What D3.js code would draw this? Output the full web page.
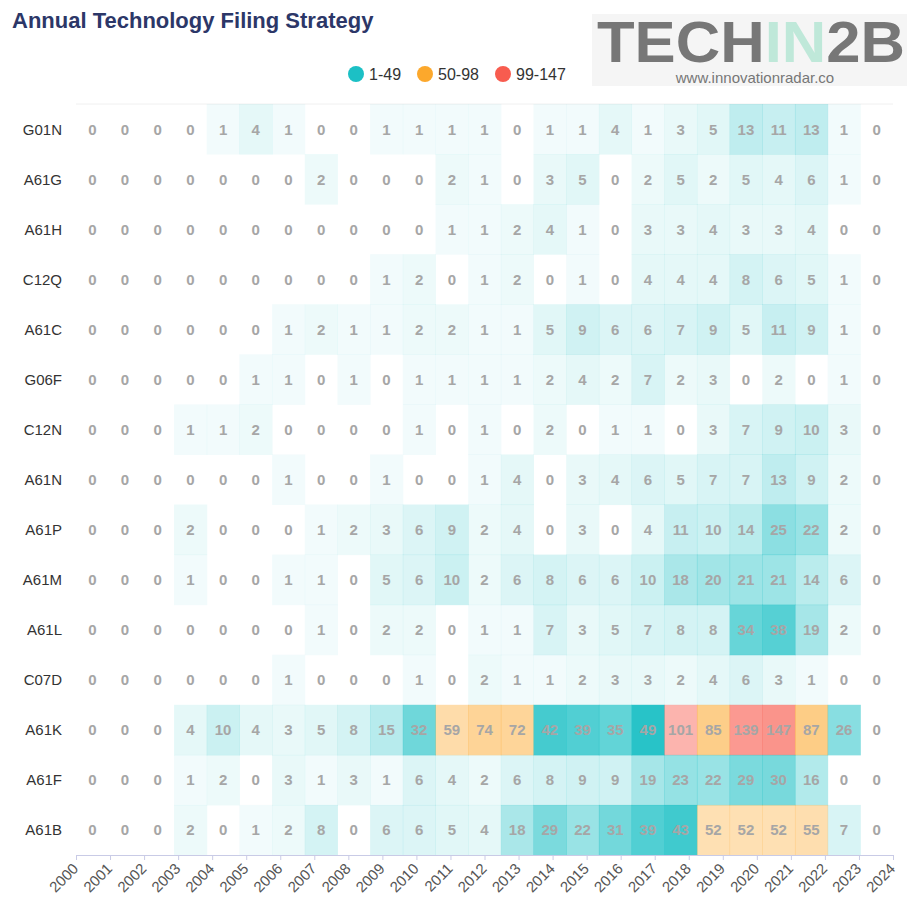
<!DOCTYPE html>
<html>
<head>
<meta charset="utf-8">
<script src="https://cdnjs.cloudflare.com/ajax/libs/d3/7.8.5/d3.min.js"></script>
<style>
  body { margin: 0; background: #fff; }
  svg { display: block; font-family: "Liberation Sans", Arial, sans-serif; }
</style>
</head>
<body>
<svg id="heat" width="907" height="900"></svg>
<script>
// years along the bottom, classes down the side
var years = ["2000","2001","2002","2003","2004","2005","2006","2007","2008","2009","2010","2011",
             "2012","2013","2014","2015","2016","2017","2018","2019","2020","2021","2022","2023","2024"];
var classes = ["G01N","A61G","A61H","C12Q","A61C","G06F","C12N","A61N","A61P","A61M","A61L","C07D","A61K","A61F","A61B"];

var G01N = [0,0,0,0,1,4,1,0,0,1,1,1,1,0,1,1,4,1,3,5,13,11,13,1,0];
var A61G = [0,0,0,0,0,0,0,2,0,0,0,2,1,0,3,5,0,2,5,2,5,4,6,1,0];
var A61H = [0,0,0,0,0,0,0,0,0,0,0,1,1,2,4,1,0,3,3,4,3,3,4,0,0];
var C12Q = [0,0,0,0,0,0,0,0,0,1,2,0,1,2,0,1,0,4,4,4,8,6,5,1,0];
var A61C = [0,0,0,0,0,0,1,2,1,1,2,2,1,1,5,9,6,6,7,9,5,11,9,1,0];
var G06F = [0,0,0,0,0,1,1,0,1,0,1,1,1,1,2,4,2,7,2,3,0,2,0,1,0];
var C12N = [0,0,0,1,1,2,0,0,0,0,1,0,1,0,2,0,1,1,0,3,7,9,10,3,0];
var A61N = [0,0,0,0,0,0,1,0,0,1,0,0,1,4,0,3,4,6,5,7,7,13,9,2,0];
var A61P = [0,0,0,2,0,0,0,1,2,3,6,9,2,4,0,3,0,4,11,10,14,25,22,2,0];
var A61M = [0,0,0,1,0,0,1,1,0,5,6,10,2,6,8,6,6,10,18,20,21,21,14,6,0];
var A61L = [0,0,0,0,0,0,0,1,0,2,2,0,1,1,7,3,5,7,8,8,34,38,19,2,0];
var C07D = [0,0,0,0,0,0,1,0,0,0,1,0,2,1,1,2,3,3,2,4,6,3,1,0,0];
var A61K = [0,0,0,4,10,4,3,5,8,15,32,59,74,72,42,39,35,49,101,85,139,147,87,26,0];
var A61F = [0,0,0,1,2,0,3,1,3,1,6,4,2,6,8,9,9,19,23,22,29,30,16,0,0];
var A61B = [0,0,0,2,0,1,2,8,0,6,6,5,4,18,29,22,31,39,43,52,52,52,55,7,0];

var pieceLabels = ["1-49", "50-98", "99-147"];
var pieceRanges = [[1,49], [50,98], [99,147]];

var rows = [G01N, A61G, A61H, C12Q, A61C, G06F, C12N, A61N, A61P, A61M, A61L, C07D, A61K, A61F, A61B];

var cells = [];
rows.forEach(function(r, i) {
  r.forEach(function(v, j) {
    cells.push({ cls: classes[i], year: years[j], value: v });
  });
});

var svg = d3.select("#heat"),
    margin = {top: 104, right: 14, bottom: 45, left: 76},
    width = +svg.attr("width"),
    height = +svg.attr("height"),
    gridRight = width - margin.right,
    gridBottom = height - margin.bottom;

var pieceColors = ["#1cc0c5", "#fca82c", "#f85c4f"];
// alpha spread inside each piece (low end, high end)
var alphaRange = [[0.06, 0.95], [0.35, 0.64], [0.45, 0.66]];

function cellColor(v) {
  for (var k = 0; k < pieceRanges.length; k++) {
    var lo = pieceRanges[k][0], hi = pieceRanges[k][1];
    if (v >= lo && v <= hi) {
      var a = d3.scaleLinear().domain([lo, hi]).range(alphaRange[k])(v);
      var c = d3.color(pieceColors[k]);
      c.opacity = a;
      return c + "";
    }
  }
  return "none";
}

var x = d3.scaleBand().domain(years).range([margin.left, gridRight]);
var y = d3.scaleBand().domain(classes).range([margin.top, gridBottom]);
// axis ticks sit on a separate point scale, same as the original
var xTick = d3.scalePoint().domain(years).range([margin.left, gridRight]);

// faint top edge
svg.append("line")
    .attr("x1", margin.left).attr("x2", gridRight)
    .attr("y1", margin.top).attr("y2", margin.top)
    .attr("stroke", "#f0f0f0");

svg.append("g").selectAll("rect")
    .data(cells)
  .enter().append("rect")
    .attr("x", function(d) { return x(d.year); })
    .attr("y", function(d) { return y(d.cls); })
    .attr("width", x.bandwidth() + 0.5)
    .attr("height", y.bandwidth() + 0.5)
    .attr("fill", function(d) { return cellColor(d.value); });

svg.append("g").selectAll("text")
    .data(cells)
  .enter().append("text")
    .attr("x", function(d) { return x(d.year) + x.bandwidth() / 2; })
    .attr("y", function(d) { return y(d.cls) + y.bandwidth() / 2; })
    .attr("text-anchor", "middle")
    .attr("dominant-baseline", "central")
    .attr("font-size", 15)
    .attr("font-weight", "bold")
    .attr("fill", "#a6a6a6")
    .text(function(d) { return d.value; });

// y labels
svg.append("g").selectAll("text")
    .data(classes)
  .enter().append("text")
    .attr("x", 62)
    .attr("y", function(d) { return y(d) + y.bandwidth() / 2; })
    .attr("text-anchor", "end")
    .attr("dominant-baseline", "central")
    .attr("font-size", 15)
    .attr("fill", "#333")
    .text(function(d) { return d; });

// x axis
var xa = svg.append("g")
    .attr("transform", "translate(0," + gridBottom + ")")
    .call(d3.axisBottom(xTick).tickSizeOuter(0).tickSize(5));
xa.select(".domain").attr("stroke", "#c9cbe6");
xa.selectAll(".tick line").attr("stroke", "#c9cbe6");
xa.selectAll(".tick text")
    .attr("font-family", "'Liberation Sans', Arial, sans-serif")
    .attr("font-size", 15)
    .attr("fill", "#555")
    .attr("text-anchor", "end")
    .attr("y", 0)
    .attr("dy", "0.35em")
    .attr("transform", "translate(-1,11) rotate(-45)");

// title
svg.append("text")
    .attr("x", 12).attr("y", 28)
    .attr("font-size", 22)
    .attr("font-weight", "bold")
    .attr("fill", "#2c3768")
    .text("Annual Technology Filing Strategy");

// legend
var lx = [356, 425, 503];
var lg = svg.append("g").selectAll("g")
    .data(pieceLabels)
  .enter().append("g")
    .attr("transform", function(d, i) { return "translate(" + lx[i] + ",74)"; });
lg.append("circle")
    .attr("r", 8)
    .attr("fill", function(d, i) { return pieceColors[i]; });
lg.append("text")
    .attr("x", 13)
    .attr("dominant-baseline", "central")
    .attr("font-size", 16)
    .attr("fill", "#333")
    .text(function(d) { return d; });

// logo block
var logo = svg.append("g");
logo.append("rect")
    .attr("x", 592).attr("y", 14)
    .attr("width", 315).attr("height", 72)
    .attr("fill", "#f5f5f5");
var lt = logo.append("text")
    .attr("x", 597).attr("y", 62)
    .attr("font-size", 58)
    .attr("font-weight", "bold")
    .attr("textLength", 308)
    .attr("lengthAdjust", "spacingAndGlyphs");
lt.append("tspan").attr("fill", "#777").text("TECH");
lt.append("tspan").attr("fill", "#bfe8d9").text("IN");
lt.append("tspan").attr("fill", "#777").text("2B");
logo.append("text")
    .attr("x", 755).attr("y", 83)
    .attr("text-anchor", "middle")
    .attr("font-size", 15)
    .attr("fill", "#777")
    .text("www.innovationradar.co");
</script>
</body>
</html>
